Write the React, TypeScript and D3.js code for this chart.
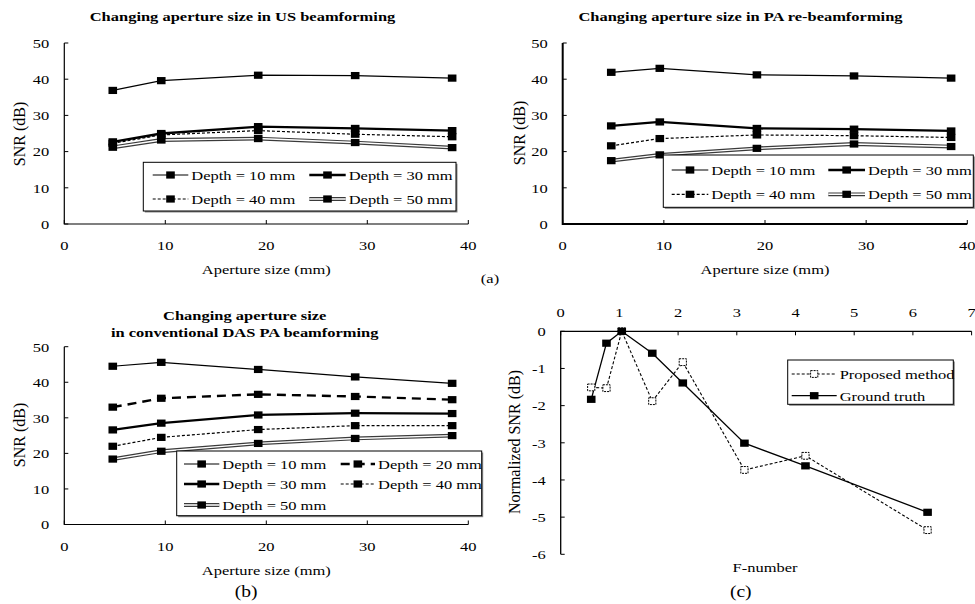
import React from "react";
import * as d3 from "d3";

// ---------- DATA ----------
const apertures = [4.8, 9.6, 19.2, 28.8, 38.4];

const usDepth10 = [36.9, 39.6, 41.1, 41.0, 40.3];
const usDepth30 = [22.7, 25.0, 26.9, 26.4, 25.8];
const usDepth40 = [22.3, 24.6, 25.8, 24.8, 24.1];
const usDepth50 = [21.2, 23.2, 23.6, 22.5, 21.1];

const paDepth10 = [41.9, 43.0, 41.2, 40.9, 40.3];
const paDepth30 = [27.1, 28.2, 26.4, 26.2, 25.7];
const paDepth40 = [21.6, 23.6, 24.6, 24.4, 23.9];
const paDepth50 = [17.5, 19.1, 20.9, 22.1, 21.4];

const dasDepth10 = [44.5, 45.6, 43.6, 41.5, 39.7];
const dasDepth20 = [33.0, 35.5, 36.6, 36.0, 35.1];
const dasDepth30 = [26.6, 28.5, 30.8, 31.3, 31.2];
const dasDepth40 = [22.0, 24.5, 26.7, 27.8, 27.8];
const dasDepth50 = [18.4, 20.6, 22.8, 24.2, 25.0];

const fNumbers = [0.52, 0.78, 1.04, 1.56, 2.08, 3.13, 4.17, 6.25];
const proposedSNR = [-1.51, -1.53, 0, -1.88, -0.83, -3.73, -3.35, -5.35];
const groundTruthSNR = [-1.83, -0.32, 0, -0.59, -1.39, -3.01, -3.62, -4.87];

const snrTicks = [0, 10, 20, 30, 40, 50];
const apertureTicks = [0, 10, 20, 30, 40];
const fTicks = [0, 1, 2, 3, 4, 5, 6, 7];
const normTicks = [0, -1, -2, -3, -4, -5, -6];

// ---------- STYLE ----------
const FONT = "'Liberation Serif', 'Times New Roman', serif";
const FS = 13.5;
const SX = 1.22;

type Style = "thin" | "thick" | "dash" | "longdash" | "double";

function T({ x, y, children, anchor = "middle", bold = false, size = FS }: any) {
  return (
    <text
      transform={`translate(${x},${y}) scale(${SX},1)`}
      textAnchor={anchor}
      fontFamily={FONT}
      fontSize={size}
      fontWeight={bold ? "bold" : "normal"}
      fill="#000"
    >
      {children}
    </text>
  );
}

function RotT({ x, y, children }: any) {
  return (
    <text
      transform={`translate(${x},${y}) rotate(-90)`}
      textAnchor="middle"
      fontFamily={FONT}
      fontSize={16}
      fill="#000"
    >
      {children}
    </text>
  );
}

function StyledPath({ d, style }: { d: string; style: Style }) {
  if (style === "double") {
    return (
      <g>
        <path d={d} fill="none" stroke="#3a3a3a" strokeWidth={3.8} />
        <path d={d} fill="none" stroke="#fff" strokeWidth={1.4} />
      </g>
    );
  }
  const w = style === "thick" ? 2.3 : style === "longdash" ? 2.4 : 1.2;
  const dash = style === "dash" ? "3,2" : style === "longdash" ? "9,6" : undefined;
  return <path d={d} fill="none" stroke="#000" strokeWidth={w} strokeDasharray={dash} />;
}

function Square({ x, y, open = false }: any) {
  if (open) {
    return (
      <rect x={x - 3.6} y={y - 3.4} width={7.2} height={6.8} fill="#fff" stroke="#000" strokeWidth={1} strokeDasharray="2,1" />
    );
  }
  return <rect x={x - 4.3} y={y - 3.6} width={8.6} height={7.2} fill="#000" />;
}

function LegendBox({ x0, y0, x1, y1 }: any) {
  return (
    <g>
      <rect x={x0 + 1.5} y={y0 + 1.5} width={x1 - x0} height={y1 - y0} fill="#888" />
      <rect x={x0} y={y0} width={x1 - x0} height={y1 - y0} fill="#fff" stroke="#000" strokeWidth={1} />
    </g>
  );
}

function LegendItem({ x1, x2, y, style, label, open = false }: any) {
  const d = `M${x1},${y}L${x2},${y}`;
  return (
    <g>
      {open ? (
        <path d={d} fill="none" stroke="#000" strokeWidth={1.1} strokeDasharray="3,2" />
      ) : (
        <StyledPath d={d} style={style} />
      )}
      <Square x={(x1 + x2) / 2} y={y} open={open} />
      <T x={x2 + 3} y={y + 4.8} anchor="start">{label}</T>
    </g>
  );
}

interface Series {
  values: number[];
  style: Style;
}

function SNRPanel({
  left, right, top, bottom, series, axisW, title,
}: {
  left: number; right: number; top: number; bottom: number; series: Series[]; axisW: number; title: React.ReactNode;
}) {
  const x = d3.scaleLinear().domain([0, 40]).range([left, right]);
  const y = d3.scaleLinear().domain([0, 50]).range([bottom, top]);
  const line = d3
    .line<number>()
    .x((_, i) => x(apertures[i]))
    .y((v) => y(v));
  return (
    <g>
      {title}
      {/* axes */}
      <path d={`M${left},${y(50)}L${left},${bottom}L${x(40)},${bottom}`} fill="none" stroke="#000" strokeWidth={axisW} />
      {snrTicks.map((t) => (
        <g key={"y" + t}>
          <line x1={left} x2={left + 4} y1={y(t)} y2={y(t)} stroke="#000" strokeWidth={1} />
          <T x={left - 15} y={y(t) + 4.8} anchor="end">{t}</T>
        </g>
      ))}
      {apertureTicks.map((t) => (
        <g key={"x" + t}>
          <line x1={x(t)} x2={x(t)} y1={bottom} y2={bottom - 4} stroke="#000" strokeWidth={1} />
          <T x={x(t)} y={bottom + 26} anchor="middle">{t}</T>
        </g>
      ))}
      {series.map((s, i) => (
        <g key={i}>
          <StyledPath d={line(s.values) || ""} style={s.style} />
          {s.values.map((v, j) => (
            <Square key={j} x={x(apertures[j])} y={y(v)} />
          ))}
        </g>
      ))}
      <T x={(left + x(40)) / 2} y={bottom + 50}>Aperture size (mm)</T>
    </g>
  );
}

function FPanel() {
  const left = 560.7, top = 331.3, bottom = 554.3;
  const x = d3.scaleLinear().domain([0, 7]).range([left, 971.6]);
  const y = d3.scaleLinear().domain([0, -6]).range([top, bottom]);
  const line = d3
    .line<number>()
    .x((_, i) => x(fNumbers[i]))
    .y((v) => y(v));
  return (
    <g>
      <path d={`M${x(7)},${top}L${left},${top}L${left},${bottom}`} fill="none" stroke="#000" strokeWidth={1.3} />
      {fTicks.map((t) => (
        <g key={"x" + t}>
          <line x1={x(t)} x2={x(t)} y1={top} y2={top + 4} stroke="#000" strokeWidth={1} />
          <T x={x(t)} y={top - 14} anchor="middle">{t}</T>
        </g>
      ))}
      {normTicks.map((t) => (
        <g key={"y" + t}>
          <line x1={left} x2={left + 4} y1={y(t)} y2={y(t)} stroke="#000" strokeWidth={1} />
          <T x={left - 15} y={y(t) + 4.8} anchor="end">{t}</T>
        </g>
      ))}
      <path d={line(proposedSNR) || ""} fill="none" stroke="#000" strokeWidth={1.1} strokeDasharray="3,2" />
      <path d={line(groundTruthSNR) || ""} fill="none" stroke="#000" strokeWidth={1.3} />
      {proposedSNR.map((v, i) => (
        <Square key={"p" + i} x={x(fNumbers[i])} y={y(v)} open />
      ))}
      {groundTruthSNR.map((v, i) => (
        <Square key={"g" + i} x={x(fNumbers[i])} y={y(v)} />
      ))}
      <RotT x={520} y={442}>Normalized SNR (dB)</RotT>
      <T x={765} y={572}>F-number</T>
      <LegendBox x0={787.7} y0={360} x1={953.3} y1={404.3} />
      <LegendItem x1={791.7} x2={836.7} y={374} label="Proposed method" open />
      <LegendItem x1={791.7} x2={836.7} y={395.7} style="thin" label="Ground truth" />
    </g>
  );
}

export default function App() {
  return (
    <svg
      width={975}
      height={604}
      style={{ position: "absolute", left: 0, top: 0, background: "#fff" }}
    >
      <rect width={975} height={604} fill="#fff" />
      {/* Top-left */}
      <SNRPanel
        left={64.3}
        right={468.3}
        top={43}
        bottom={224}
        axisW={1.2}
        series={[
          { values: usDepth10, style: "thin" },
          { values: usDepth50, style: "double" },
          { values: usDepth40, style: "dash" },
          { values: usDepth30, style: "thick" },
        ]}
        title={<T x={242.5} y={21} bold>Changing aperture size in US beamforming</T>}
      />
      <RotT x={25} y={134}>SNR (dB)</RotT>
      <LegendBox x0={143.3} y0={162.3} x1={456} y1={211} />
      <LegendItem x1={152.7} x2={188.3} y={175} style="thin" label="Depth = 10 mm" />
      <LegendItem x1={309.3} x2={345.7} y={175} style="thick" label="Depth = 30 mm" />
      <LegendItem x1={152.7} x2={188.3} y={199} style="dash" label="Depth = 40 mm" />
      <LegendItem x1={309.3} x2={345.7} y={199} style="double" label="Depth = 50 mm" />

      {/* Top-right */}
      <SNRPanel
        left={562.7}
        right={967.3}
        top={43}
        bottom={224}
        axisW={2}
        series={[
          { values: paDepth10, style: "thin" },
          { values: paDepth50, style: "double" },
          { values: paDepth40, style: "dash" },
          { values: paDepth30, style: "thick" },
        ]}
        title={<T x={740.5} y={21} bold>Changing aperture size in PA re-beamforming</T>}
      />
      <RotT x={525} y={133}>SNR (dB)</RotT>
      <LegendBox x0={663.3} y0={155} x1={973.3} y1={207.3} />
      <LegendItem x1={671.7} x2={708.3} y={170} style="thin" label="Depth = 10 mm" />
      <LegendItem x1={828.3} x2={865} y={170} style="thick" label="Depth = 30 mm" />
      <LegendItem x1={671.7} x2={708.3} y={194.3} style="dash" label="Depth = 40 mm" />
      <LegendItem x1={828.3} x2={865} y={194.3} style="double" label="Depth = 50 mm" />
      <T x={490} y={283}>(a)</T>

      {/* Bottom-left */}
      <SNRPanel
        left={64.3}
        right={468.3}
        top={346.7}
        bottom={524.5}
        axisW={1.2}
        series={[
          { values: dasDepth10, style: "thin" },
          { values: dasDepth20, style: "longdash" },
          { values: dasDepth30, style: "thick" },
          { values: dasDepth40, style: "dash" },
          { values: dasDepth50, style: "double" },
        ]}
        title={
          <g>
            <T x={244.7} y={320} bold>Changing aperture size</T>
            <T x={244.7} y={336.5} bold>in conventional DAS PA beamforming</T>
          </g>
        }
      />
      <RotT x={25} y={435}>SNR (dB)</RotT>
      <LegendBox x0={176.7} y0={451} x1={481.7} y1={515.7} />
      <LegendItem x1={184} x2={219.3} y={464} style="thin" label="Depth = 10 mm" />
      <LegendItem x1={340.7} x2={375} y={464} style="longdash" label="Depth = 20 mm" />
      <LegendItem x1={184} x2={219.3} y={484} style="thick" label="Depth = 30 mm" />
      <LegendItem x1={340.7} x2={375} y={484} style="dash" label="Depth = 40 mm" />
      <LegendItem x1={184} x2={219.3} y={505} style="double" label="Depth = 50 mm" />
      <T x={246} y={597} size={16}>(b)</T>

      {/* Bottom-right */}
      <FPanel />
      <T x={740.7} y={597} size={16}>(c)</T>
    </svg>
  );
}
